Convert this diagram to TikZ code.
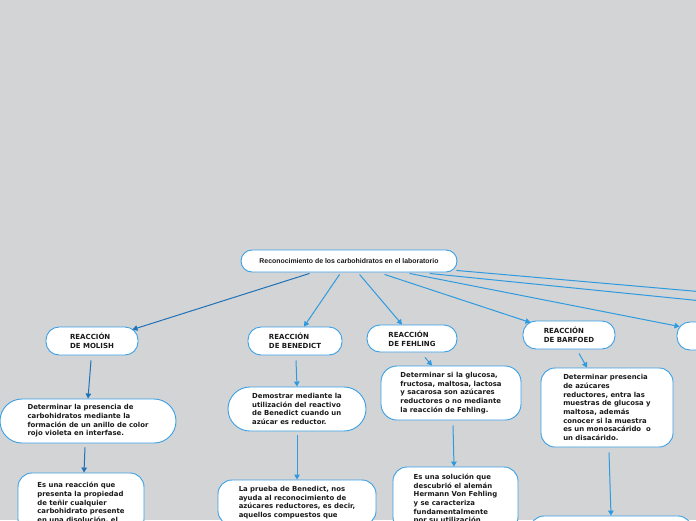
\documentclass[tikz,border=0pt]{standalone}
\usepackage{fontspec}
\usepackage{xcolor}
\usepackage{tikz}
\usetikzlibrary{arrows.meta,positioning,calc}
\newfontfamily\bodyfont{DejaVu Sans}
\newfontfamily\titlefont{Liberation Sans}
\definecolor{Canvas}{HTML}{D3D4D5}
\definecolor{Sky}{HTML}{3AA0E6}
\definecolor{SkyLine}{HTML}{2E9BE0}
\definecolor{Navy}{HTML}{1E72B8}
\definecolor{Ink}{HTML}{1A1A1A}
\tikzset{
  topic/.style={draw=Sky, fill=white, line width=0.9pt, rounded corners=11pt,
    text=Ink, font=\titlefont\bfseries\fontsize{6.9}{8}\selectfont,
    minimum width=216pt, minimum height=22pt, inner sep=0pt},
  head/.style={draw=Sky, fill=white, line width=0.9pt, rounded corners=13pt,
    text=Ink, font=\bodyfont\bfseries\fontsize{7}{9.4}\selectfont,
    align=left, minimum height=28pt, inner sep=0pt},
  aim/.style={draw=Sky, fill=white, line width=0.9pt, rounded corners=15pt,
    text=Ink, font=\bodyfont\bfseries\fontsize{6.9}{8.7}\selectfont,
    align=left, inner sep=0pt},
  link/.style={draw=SkyLine, line width=1pt, -{Triangle[length=5pt,width=5.5pt]}},
  navylink/.style={link, draw=Navy, -{Triangle[length=5pt,width=5.5pt,fill=Navy]}}
}
\begin{document}
\begin{tikzpicture}[x=1pt,y=-1pt]
  \useasboundingbox (0,0) rectangle (696,520);
  \fill[Canvas] (0,0) rectangle (696,520);
  \clip (0,0) rectangle (696,520);

  % central topic
  \node[topic] (root) at (349,261) {Reconocimiento de los carbohidratos en el laboratorio};

  % reactions
  \node[head, minimum width=92pt] (molish) at (92,341) {REACCIÓN\\DE MOLISH};
  \node[head, minimum width=94pt] (benedict) at (295,341) {REACCIÓN\\DE BENEDICT};
  \node[head, minimum width=90pt, minimum height=27pt] (fehling) at (412,338.5) {REACCIÓN\\DE FEHLING};
  \node[head, minimum width=92pt] (barfoed) at (569,335) {REACCIÓN\\DE BARFOED};
  \node[head, minimum width=92pt] (nextrxn) at (723,336) {};
  \coordinate (farA) at (960,327);
  \coordinate (farB) at (1083,325);

  % aims
  \node[aim, minimum width=176pt, minimum height=44pt, rounded corners=22pt] (molishaim) at (88,421)
    {Determinar la presencia de\\carbohidratos mediante la\\formación de un anillo de color\\rojo violeta en interfase.};
  \node[aim, minimum width=138pt, minimum height=44pt, rounded corners=22pt] (benedictaim) at (297,409)
    {Demostrar mediante la\\utilización del reactivo\\de Benedict cuando un\\azúcar es reductor.};
  \node[aim, minimum width=140pt, minimum height=54pt, rounded corners=16pt] (fehlingaim) at (451,393)
    {Determinar si la glucosa,\\fructosa, maltosa, lactosa\\y sacarosa son azúcares\\reductores o no mediante\\la reacción de Fehling.};
  \node[aim, minimum width=132pt, minimum height=79pt, rounded corners=14pt] (barfoedaim) at (607,407.5)
    {Determinar presencia\\de azúcares\\reductores, entra las\\muestras de glucosa y\\maltosa, además\\conocer si la muestra\\es un monosacárido\ \ o\\un disacárido.};

  % descriptions
  \node[aim, minimum width=126pt, minimum height=60pt, rounded corners=14pt] (molishinfo) at (81,503)
    {Es una reacción que\\presenta la propiedad\\de teñir cualquier\\carbohidrato presente\\en una disolución, el};
  \node[aim, minimum width=158pt, minimum height=45pt, rounded corners=14pt] (benedictinfo) at (297,502.5)
    {La prueba de Benedict, nos\\ayuda al reconocimiento de\\azúcares reductores, es decir,\\aquellos compuestos que};
  \node[aim, minimum width=125pt, minimum height=64pt, rounded corners=14pt] (fehlinginfo) at (455.5,499)
    {Es una solución que\\descubrió el alemán\\Hermann Von Fehling\\y se caracteriza\\fundamentalmente\\por su utilización};
  \node[aim, minimum width=162pt, minimum height=40pt, rounded corners=14pt] (barfoedinfo) at (611,536) {};

  % connectors from the topic
  \draw[navylink] ([xshift=69pt,yshift=-1pt]root.south west) -- ([xshift=-6pt,yshift=-3pt]molish.north east);
  \draw[link] ([xshift=99pt,yshift=-2pt]root.south west) -- ([xshift=9pt]benedict.north);
  \draw[link] ([xshift=119pt,yshift=-2pt]root.south west) -- ([xshift=-10pt]fehling.north);
  \draw[link] ([xshift=144pt,yshift=-2pt]root.south west) -- ([xshift=8pt,yshift=-2pt]barfoed.north west);
  \draw[link] ([xshift=169pt,yshift=-1pt]root.south west) -- ([xshift=3pt,yshift=-5pt]nextrxn.north west);
  \draw[link] ([xshift=189pt,yshift=-1pt]root.south west) -- (farA);
  \draw[link] ([xshift=-1pt,yshift=2pt]root.south east) -- (farB);

  % connectors down each branch
  \draw[navylink] ([xshift=-1pt,yshift=-5pt]molish.south) -- (molishaim.north);
  \draw[navylink] ([xshift=-3pt,yshift=-4pt]molishaim.south) -- ([xshift=3pt]molishinfo.north);
  \draw[link] ([xshift=1pt,yshift=-5pt]benedict.south) -- (benedictaim.north);
  \draw[link] ([yshift=-4pt]benedictaim.south) -- (benedictinfo.north);
  \draw[link] ([xshift=13pt,yshift=-5pt]fehling.south) -- ([xshift=-19pt]fehlingaim.north);
  \draw[link] ([xshift=2pt,yshift=-5pt]fehlingaim.south) -- ([xshift=-1.5pt]fehlinginfo.north);
  \draw[link] ([xshift=10pt,yshift=-4pt]barfoed.south) -- ([xshift=-20pt]barfoedaim.north);
  \draw[link] ([xshift=2pt,yshift=-5pt]barfoedaim.south) -- (barfoedinfo.north);
\end{tikzpicture}
\end{document}
